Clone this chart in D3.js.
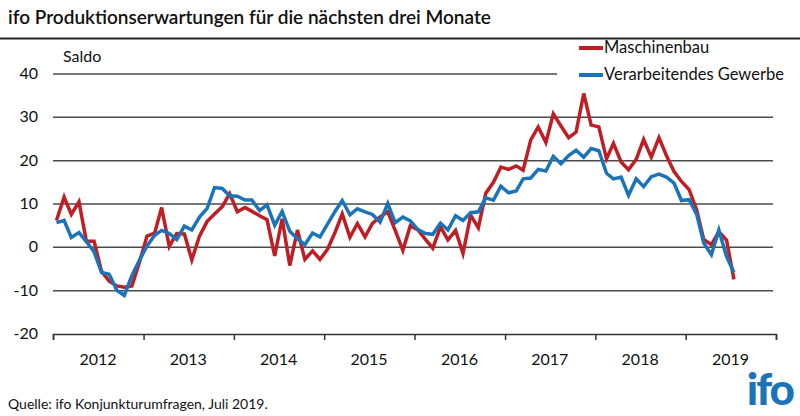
<!DOCTYPE html>
<html>
<head>
<meta charset="utf-8">
<script src="https://cdn.jsdelivr.net/npm/d3@7"></script>
<style>
  body { margin: 0; background: #fff; }
  text { font-family: Lato, "Noto Sans", sans-serif; fill: #111; }
</style>
</head>
<body>
<div id="chart"></div>
<script>
// monthly values Jan 2012 .. Jul 2019
let startYear = 2012;
let maschinenbau = [
  6.2, 11.6, 7.6, 10.5, 1.4, 1.4, -5.5, -7.8, -8.9, -9.2, -8.9, -3.5,
  2.6, 3.3, 9.2, 0.2, 3.2, 3.1, -2.9, 2.6, 6.0, 7.7, 9.4, 12.4,
  8.2, 9.2, 8.3, 7.3, 6.4, -2.0, 6.6, -4.2, 4.0, -2.8, -0.8, -2.8,
  -0.4, 3.6, 7.7, 2.3, 5.5, 2.4, 5.5, 7.0, 8.2, 3.9, -0.7, 5.0,
  4.0, 1.8, -0.2, 4.7, 1.7, 3.9, -1.4, 7.4, 4.5, 12.5, 15.0, 18.5,
  18.0, 18.8, 17.8, 24.8, 27.8, 24.2, 30.8, 28.0, 25.3, 26.6, 35.5, 28.2,
  27.8, 20.4, 24.0, 19.7, 17.9, 20.3, 24.9, 20.8, 25.3, 21.2, 17.5, 15.2,
  13.3, 8.5, 1.8, 0.6, 3.6, 1.7, -7.4
];
let verarbeitendes = [
  5.7, 6.2, 2.3, 3.4, 1.3, -1.0, -5.8, -6.2, -9.9, -11.1, -6.5, -3.0,
  0.3, 2.8, 3.9, 3.2, 1.8, 4.9, 4.0, 7.0, 9.0, 13.8, 13.6, 11.9,
  11.8, 10.9, 10.9, 8.5, 9.8, 5.1, 8.3, 3.7, 2.0, 0.6, 3.3, 2.4,
  5.4, 8.4, 10.8, 7.5, 8.9, 8.2, 7.6, 5.8, 10.1, 5.7, 7.0, 6.1,
  4.1, 3.2, 3.0, 5.6, 4.0, 7.3, 6.2, 8.0, 8.2, 11.4, 10.9, 14.1,
  12.6, 13.0, 15.8, 16.0, 18.0, 17.6, 21.0, 19.3, 21.2, 22.4, 20.8, 22.8,
  22.3, 17.1, 15.8, 16.2, 12.0, 15.8, 14.0, 16.3, 16.9, 16.2, 14.8, 10.8,
  11.0, 7.5, 1.0, -1.7, 4.0, -2.1, -5.8
];
let years = [2012, 2013, 2014, 2015, 2016, 2017, 2018, 2019];
let yTicks = [-20, -10, 0, 10, 20, 30, 40];
let seriesNames = ["Maschinenbau", "Verarbeitendes Gewerbe"];
let seriesColors = ["#be1e24", "#1b74b9"];

let width = 800, height = 416;
let margin = { left: 53, right: 24, top: 74, bottom: 82 };

let svg = d3.select("#chart").append("svg")
  .attr("width", width)
  .attr("height", height);

// title + rule under it
svg.append("text")
  .attr("x", 8).attr("y", 24)
  .style("font-size", "19px").style("font-weight", 600)
  .text("ifo Produktionserwartungen für die nächsten drei Monate");
svg.append("line")
  .attr("x1", 0).attr("x2", width)
  .attr("y1", 38.5).attr("y2", 38.5)
  .attr("stroke", "#222").attr("stroke-width", 2);

let x = d3.scaleTime()
  .domain([new Date(startYear, 0, 1), new Date(2020, 0, 1)])
  .range([margin.left, width - margin.right]);
let y = d3.scaleLinear()
  .domain([-20, 40])
  .range([height - margin.bottom, margin.top]);

// gridlines (top one stops before legend)
svg.append("g").selectAll("line")
  .data(yTicks.filter(d => d > -20))
  .enter().append("line")
  .attr("x1", margin.left)
  .attr("x2", d => d == 40 ? 557 : 773)
  .attr("y1", d => y(d)).attr("y2", d => y(d))
  .attr("stroke", "#4a4a4a").attr("stroke-width", 1.5);

// x axis at -20
let xAxis = d3.axisBottom(x)
  .tickValues(years.concat([2020]).map(d => new Date(d, 0, 1)))
  .tickSize(6).tickFormat("");
let ax = svg.append("g")
  .attr("transform", `translate(0,${y(-20)})`)
  .call(xAxis);
ax.select(".domain").attr("stroke", "#333").attr("stroke-width", 1.5);
ax.selectAll(".tick line").attr("stroke", "#333").attr("stroke-width", 1.5);

svg.append("g").selectAll("text")
  .data(years)
  .enter().append("text")
  .attr("x", d => x(new Date(d, 6, 1)))
  .attr("y", y(-20) + 31)
  .attr("text-anchor", "middle")
  .style("font-size", "16px")
  .text(d => d);

// y labels
svg.append("g").selectAll("text")
  .data(yTicks)
  .enter().append("text")
  .attr("x", 38).attr("y", d => y(d) + 5)
  .attr("text-anchor", "end")
  .style("font-size", "16px")
  .text(d => d);

svg.append("text")
  .attr("x", 63).attr("y", 62)
  .style("font-size", "16px")
  .text("Saldo");

// lines
let line = d3.line()
  .x((d, i) => x(new Date(startYear, i, 15)))
  .y(d => y(d));

[maschinenbau, verarbeitendes].forEach((vals, k) => {
  svg.append("path")
    .datum(vals)
    .attr("fill", "none")
    .attr("stroke", seriesColors[k])
    .attr("stroke-width", 3.5)
    .attr("stroke-linejoin", "miter")
    .attr("d", line);
});

// legend
let legend = svg.append("g");
seriesNames.forEach((name, k) => {
  let ly = 48 + k * 27;
  legend.append("line")
    .attr("x1", 579).attr("x2", 603)
    .attr("y1", ly).attr("y2", ly)
    .attr("stroke", seriesColors[k]).attr("stroke-width", 4);
  legend.append("text")
    .attr("x", 604).attr("y", ly + 5)
    .style("font-size", "16.5px")
    .text(name);
});

// source + logo
svg.append("text")
  .attr("x", 8).attr("y", 409)
  .style("font-size", "14px")
  .text("Quelle: ifo Konjunkturumfragen, Juli 2019.");
svg.append("text")
  .attr("x", 793).attr("y", 405)
  .attr("text-anchor", "end")
  .style("font-size", "44px").style("font-weight", 900)
  .style("letter-spacing", "-2px")
  .style("fill", "#1b74b9")
  .text("ifo");
</script>
</body>
</html>
